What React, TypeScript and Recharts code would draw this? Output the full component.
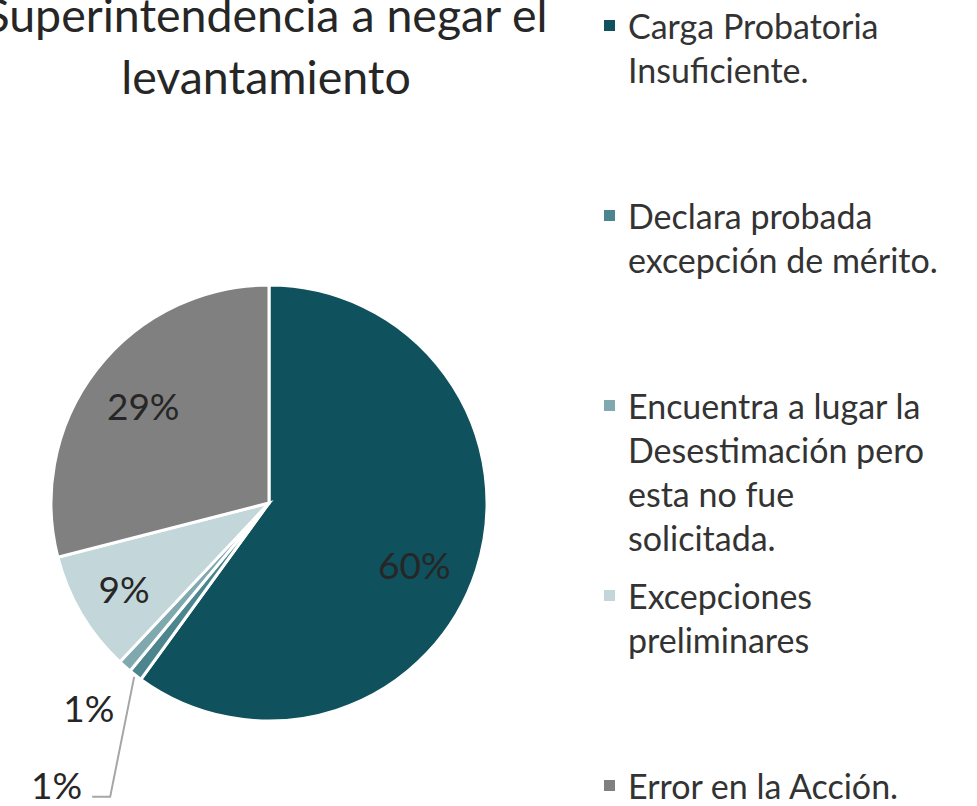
import { PieChart, Pie, Cell, Legend } from 'recharts';

const categories = [
	'Carga Probatoria Insuficiente.',
	'Declara probada excepción de mérito.',
	'Encuentra a lugar la Desestimación pero esta no fue solicitada.',
	'Excepciones preliminares',
	'Error en la Acción.',
];
const shares = [60, 1, 1, 9, 29];
const COLORS = ['#0F515D', '#4C858E', '#80A8AF', '#C3D6DA', '#808080'];

const titleLines = ['Superintendencia a negar el', 'levantamiento'];

const data = categories.map((name, i) => ({ name, value: shares[i] }));

const FONT = 'Lato, "Open Sans", sans-serif';
const RAD = Math.PI / 180;

function renderLabel(props: any) {
	const { cx, cy, midAngle, outerRadius, percent, index } = props;
	const text = `${Math.round(percent * 100)}%`;
	const cos = Math.cos(-midAngle * RAD);
	const sin = Math.sin(-midAngle * RAD);
	const common = { fontFamily: FONT, fontSize: 37, fill: '#262626' };

	if (index === 1) {
		// small slice with a leader line
		const sx = cx + (outerRadius + 2) * cos;
		const sy = cy + (outerRadius + 2) * sin;
		const ex = sx - 24;
		const ey = sy + 120;
		const tx = ex - 18;
		return (
			<g key={`lbl-${index}`}>
				<polyline
					points={`${sx},${sy} ${ex},${ey} ${tx},${ey}`}
					fill='none'
					stroke='#A6A6A6'
					strokeWidth={2}
				/>
				<text x={tx - 10} y={ey - 12} textAnchor='end' dominantBaseline='central' {...common}>
					{text}
				</text>
			</g>
		);
	}
	if (index === 2) {
		const r = outerRadius * 1.25;
		return (
			<text key={`lbl-${index}`} x={cx + r * cos} y={cy + r * sin} textAnchor='middle' dominantBaseline='central' {...common}>
				{text}
			</text>
		);
	}
	// 60% sits a bit lower in the reference
	const r = outerRadius * 0.73;
	const dy = index === 0 ? 12 : index === 3 ? 4 : 0;
	const dx = index === 0 ? -6 : index === 3 ? -8 : 0;
	return (
		<text key={`lbl-${index}`} x={cx + r * cos + dx} y={cy + r * sin + dy} textAnchor='middle' dominantBaseline='central' {...common}>
			{text}
		</text>
	);
}

function renderLegend() {
	return (
		<div style={{ fontFamily: FONT, fontSize: 34, lineHeight: '44px', color: '#333' }}>
			{categories.map((name, i) => (
				<div key={name} style={{ position: 'relative', height: 190, paddingLeft: 24, width: 315 }}>
					<span
						style={{
							position: 'absolute',
							left: 0,
							top: 16,
							width: 11,
							height: 11,
							background: COLORS[i],
						}}
					/>
					{name}
				</div>
			))}
		</div>
	);
}

export default function App() {
	return (
		<div style={{ position: 'absolute', left: 0, top: 0, width: 977, height: 806, overflow: 'hidden', background: '#fff' }}>
			<div
				style={{
					position: 'absolute',
					left: -34,
					top: -17,
					width: 600,
					textAlign: 'center',
					fontFamily: FONT,
					fontSize: 46.5,
					lineHeight: '62px',
					color: '#262626',
					whiteSpace: 'nowrap',
				}}
			>
				{titleLines.map((l) => (
					<div key={l}>{l}</div>
				))}
			</div>
			<PieChart width={977} height={806} margin={{ top: 0, right: 0, bottom: 0, left: 0 }}>
				<Pie
					data={data}
					dataKey='value'
					nameKey='name'
					cx={269}
					cy={503}
					outerRadius={218}
					startAngle={90}
					endAngle={-270}
					stroke='#fff'
					strokeWidth={3}
					label={renderLabel}
					labelLine={false}
					isAnimationActive={false}
				>
					{data.map((d, i) => (
						<Cell key={d.name} fill={COLORS[i]} />
					))}
				</Pie>
				<Legend
					content={renderLegend}
					wrapperStyle={{ position: 'absolute', left: 604, top: 4, width: 345 }}
				/>
			</PieChart>
		</div>
	);
}
